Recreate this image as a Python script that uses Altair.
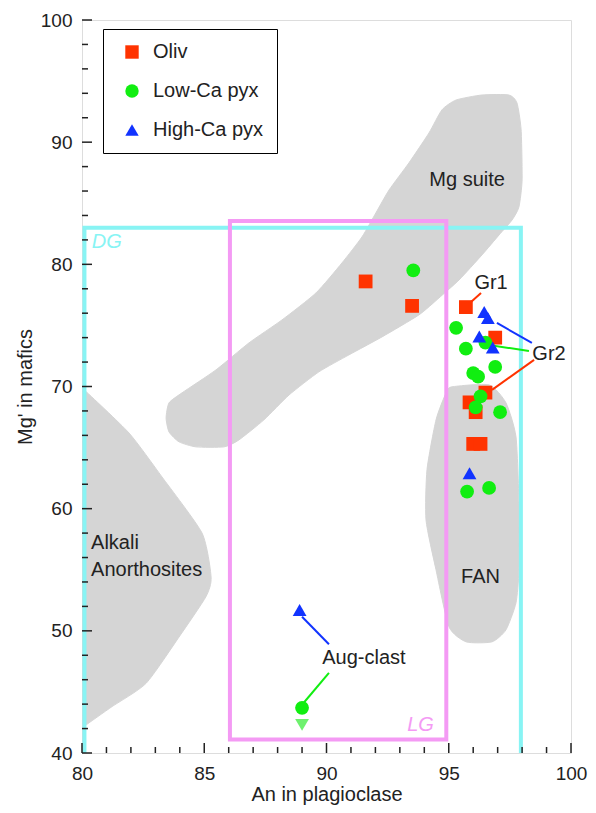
import altair as alt
import pandas as pd

# ---------------- data ----------------
oliv_x = [91.6, 93.5, 95.7, 96.9, 96.5, 95.85, 96.1, 96.0, 96.3]
oliv_y = [78.6, 76.6, 76.5, 74.0, 69.5, 68.7, 67.9, 65.3, 65.3]

lowca_x = [93.55, 95.3, 95.7, 96.5, 96.9, 96.0, 96.2, 96.3, 96.1, 97.1, 95.75, 96.65, 89.0]
lowca_y = [79.5, 74.8, 73.1, 73.6, 71.6, 71.1, 70.8, 69.2, 68.3, 67.9, 61.4, 61.7, 43.7]

highca_x = [96.45, 96.6, 96.25, 96.8, 95.85, 88.9]
highca_y = [76.1, 75.6, 74.1, 73.2, 62.9, 51.7]

# upper-limit marker below the Aug-clast low-Ca pyroxene
limit_x = [89.0]
limit_y = [42.3]

types = ["Oliv", "Low-Ca pyx", "High-Ca pyx"]
type_colors = ["#ff3300", "#11ee11", "#1133ff"]
type_shapes = ["square", "circle", "triangle-up"]

# grey compositional fields (polygon vertices)
mg_x = [83.44, 83.56, 84.09, 85.48, 86.83, 88.18, 89.57, 90.63, 91.45, 92.02, 92.56, 93.37,
        94.19, 94.72, 95.30, 96.36, 97.46, 97.79, 97.96, 98.00, 97.87, 97.59, 97.06, 96.36,
        95.42, 94.60, 93.78, 92.27, 90.92, 89.69, 88.47, 87.44, 86.42, 85.81, 84.66, 83.97, 83.56]
mg_y = [67.43, 68.66, 69.48, 71.36, 73.57, 75.45, 77.66, 80.11, 82.24, 84.21, 86.09, 88.30,
        90.75, 92.64, 93.45, 93.86, 93.86, 93.21, 91.00, 86.91, 84.70, 83.63, 82.41, 80.77,
        78.72, 77.25, 75.86, 74.06, 72.59, 71.20, 69.31, 67.27, 65.63, 65.06, 65.06, 65.47, 66.28]

alk_x = [80.0, 80.05, 81.92, 83.27, 84.91, 85.28, 85.07, 83.97, 82.62, 81.23, 80.1, 80.0]
alk_y = [69.8, 69.8, 66.2, 62.6, 58.0, 54.4, 52.8, 49.5, 45.7, 43.8, 42.2, 42.0]

fan_x = [95.13, 96.65, 97.34, 97.75, 97.87, 97.87, 97.75, 97.34, 96.77, 95.71, 95.01, 94.48,
         94.07, 94.11, 94.48, 94.89]
fan_y = [69.97, 70.13, 68.66, 65.88, 60.47, 54.99, 52.29, 50.08, 49.10, 49.10, 50.33, 54.99,
         59.08, 63.18, 67.27, 69.48]

# lithology boxes
box_names = ["DG", "LG"]
box_x1 = [80.1, 86.05]
box_x2 = [97.95, 94.9]
box_y1 = [83.0, 83.55]
box_y2 = [38.0, 41.1]
box_colors = ["#88f4f4", "#f49af4"]

# annotation texts
lab_text = ["Mg suite", "FAN", "Gr1", "Gr2", "Aug-clast"]
lab_x = [95.75, 96.3, 96.73, 99.1, 91.53]
lab_y = [86.9, 54.4, 78.5, 72.7, 47.8]

alk_text = ["Alkali", "Anorthosites"]
alk_tx = [80.37, 80.37]
alk_ty = [57.2, 54.95]

box_lab_text = ["DG", "LG"]
box_lab_x = [80.4, 93.3]
box_lab_y = [81.8, 42.3]

# leader lines
lead_x1 = [96.32, 98.4, 98.28, 98.49, 89.0, 90.1]
lead_y1 = [77.66, 73.57, 72.9, 72.18, 51.15, 46.56]
lead_x2 = [95.91, 96.97, 96.65, 96.77, 90.1, 89.0]
lead_y2 = [76.92, 75.2, 73.4, 69.72, 48.9, 43.95]
lead_col = ["#ff3300", "#1133ff", "#11ee11", "#ff3300", "#1133ff", "#11ee11"]

x_ticks = list(range(80, 101))
y_ticks = list(range(40, 101, 2))

# ---------------- chart ----------------
W, H = 489, 733
FONT = "Liberation Sans"
TXT = 20
xs = alt.Scale(domain=[80, 100], nice=False, zero=False)
ys = alt.Scale(domain=[40, 100], nice=False, zero=False)
xaxis = alt.Axis(values=[80, 85, 90, 95, 100], ticks=False, domain=False, grid=False,
                 labelFlush=False, labelOverlap=False,
                 title="An in plagioclase", labelPadding=11, titlePadding=1,
                 labelFontSize=19, titleFontSize=TXT, labelFont=FONT, titleFont=FONT,
                 labelColor="#222", titleColor="#222", titleFontWeight="normal")
yaxis = alt.Axis(values=[40, 50, 60, 70, 80, 90, 100], ticks=False, domain=False, grid=False,
                 labelFlush=False, labelOverlap=False,
                 title="Mg' in mafics", labelPadding=10, titlePadding=5,
                 labelFontSize=19, titleFontSize=TXT, labelFont=FONT, titleFont=FONT,
                 labelColor="#222", titleColor="#222", titleFontWeight="normal")

def X(f):
    return alt.X(f, type="quantitative", scale=xs, axis=xaxis)

def Y(f):
    return alt.Y(f, type="quantitative", scale=ys, axis=yaxis)

rows = []
for name, px, py in [("mg", mg_x, mg_y), ("alk", alk_x, alk_y), ("fan", fan_x, fan_y)]:
    for i, (a, b) in enumerate(zip(px, py)):
        rows.append({"g": name, "i": i, "x": a, "y": b})
poly_df = pd.DataFrame(rows)

fields = alt.Chart(poly_df).mark_line(
    fill="#d5d5d5", stroke="#d5d5d5", strokeWidth=1, interpolate="cardinal-closed",
    tension=0.4, clip=True
).encode(x=X("x"), y=Y("y"), detail="g:N", order="i:Q")

box_df = pd.DataFrame({"n": box_names, "x": box_x1, "x2": box_x2, "y": box_y1,
                       "y2": box_y2, "c": box_colors})
boxes = alt.Chart(box_df).mark_rect(fill=None, strokeWidth=4, clip=True).encode(
    x=X("x"), x2="x2:Q", y=Y("y"), y2="y2:Q",
    stroke=alt.Stroke("c:N", scale=None))

lead_df = pd.DataFrame({"x": lead_x1, "y": lead_y1, "x2": lead_x2, "y2": lead_y2, "c": lead_col})
leads = alt.Chart(lead_df).mark_rule(strokeWidth=2).encode(
    x=X("x"), y=Y("y"), x2="x2:Q", y2="y2:Q", color=alt.Color("c:N", scale=None))

pts_df = pd.DataFrame(
    [{"t": "Oliv", "x": a, "y": b} for a, b in zip(oliv_x, oliv_y)]
    + [{"t": "Low-Ca pyx", "x": a, "y": b} for a, b in zip(lowca_x, lowca_y)]
    + [{"t": "High-Ca pyx", "x": a, "y": b} for a, b in zip(highca_x, highca_y)]
)
leg = alt.Legend(title=None, orient="none", legendX=21, legendY=9, padding=13,
                 symbolOffset=6, labelOffset=11, rowPadding=19, symbolSize=180,
                 labelFontSize=TXT, labelFont=FONT, labelColor="#222",
                 strokeColor="black", fillColor="white", symbolStrokeWidth=0)
points = alt.Chart(pts_df).mark_point(filled=True, size=190, opacity=1).encode(
    x=X("x"), y=Y("y"),
    color=alt.Color("t:N", scale=alt.Scale(domain=types, range=type_colors), legend=leg),
    shape=alt.Shape("t:N", scale=alt.Scale(domain=types, range=type_shapes), legend=leg),
)

lim_df = pd.DataFrame({"x": limit_x, "y": limit_y})
limit = alt.Chart(lim_df).mark_point(filled=True, shape="triangle-down", size=190,
                                     color="#55ee55", opacity=0.85).encode(x=X("x"), y=Y("y"))

lab_df = pd.DataFrame({"t": lab_text, "x": lab_x, "y": lab_y})
labels = alt.Chart(lab_df).mark_text(font=FONT, fontSize=TXT, color="#222",
                                     align="center", baseline="middle").encode(
    x=X("x"), y=Y("y"), text="t:N")

alk_df = pd.DataFrame({"t": alk_text, "x": alk_tx, "y": alk_ty})
alk_lab = alt.Chart(alk_df).mark_text(font=FONT, fontSize=TXT, color="#222",
                                      align="left", baseline="middle").encode(
    x=X("x"), y=Y("y"), text="t:N")

bl_df = pd.DataFrame({"t": box_lab_text, "x": box_lab_x, "y": box_lab_y, "c": box_colors})
box_labels = alt.Chart(bl_df).mark_text(font=FONT, fontSize=TXT, fontStyle="italic",
                                        align="left", baseline="middle").encode(
    x=X("x"), y=Y("y"), text="t:N", color=alt.Color("c:N", scale=None))

xt_df = pd.DataFrame({"v": x_ticks, "major": [v % 5 == 0 for v in x_ticks]})
yt_df = pd.DataFrame({"v": y_ticks, "major": [v % 10 == 0 for v in y_ticks]})
xt_major = alt.Chart(xt_df).transform_filter("datum.major").mark_rule(color="#222", strokeWidth=1.5).encode(
    x=X("v"), y=alt.value(H), y2=alt.value(H - 10))
xt_minor = alt.Chart(xt_df).transform_filter("!datum.major").mark_rule(color="#222", strokeWidth=1.5).encode(
    x=X("v"), y=alt.value(H), y2=alt.value(H - 6))
yt_major = alt.Chart(yt_df).transform_filter("datum.major").mark_rule(color="#222", strokeWidth=1.5).encode(
    y=Y("v"), x=alt.value(0), x2=alt.value(10))
yt_minor = alt.Chart(yt_df).transform_filter("!datum.major").mark_rule(color="#222", strokeWidth=1.5).encode(
    y=Y("v"), x=alt.value(0), x2=alt.value(6))

chart = alt.layer(
    fields, boxes, leads, limit, points, labels, alk_lab, box_labels,
    xt_major, xt_minor, yt_major, yt_minor
).properties(
    width=W, height=H,
    autosize=alt.AutoSizeParams(type="none"),
    padding={"left": 74, "top": 12, "right": 17, "bottom": 52},
).configure_view(stroke="#222", strokeWidth=1.5).configure(background="white")

chart.save("out.html", embed_options={"renderer": "svg", "actions": False})
